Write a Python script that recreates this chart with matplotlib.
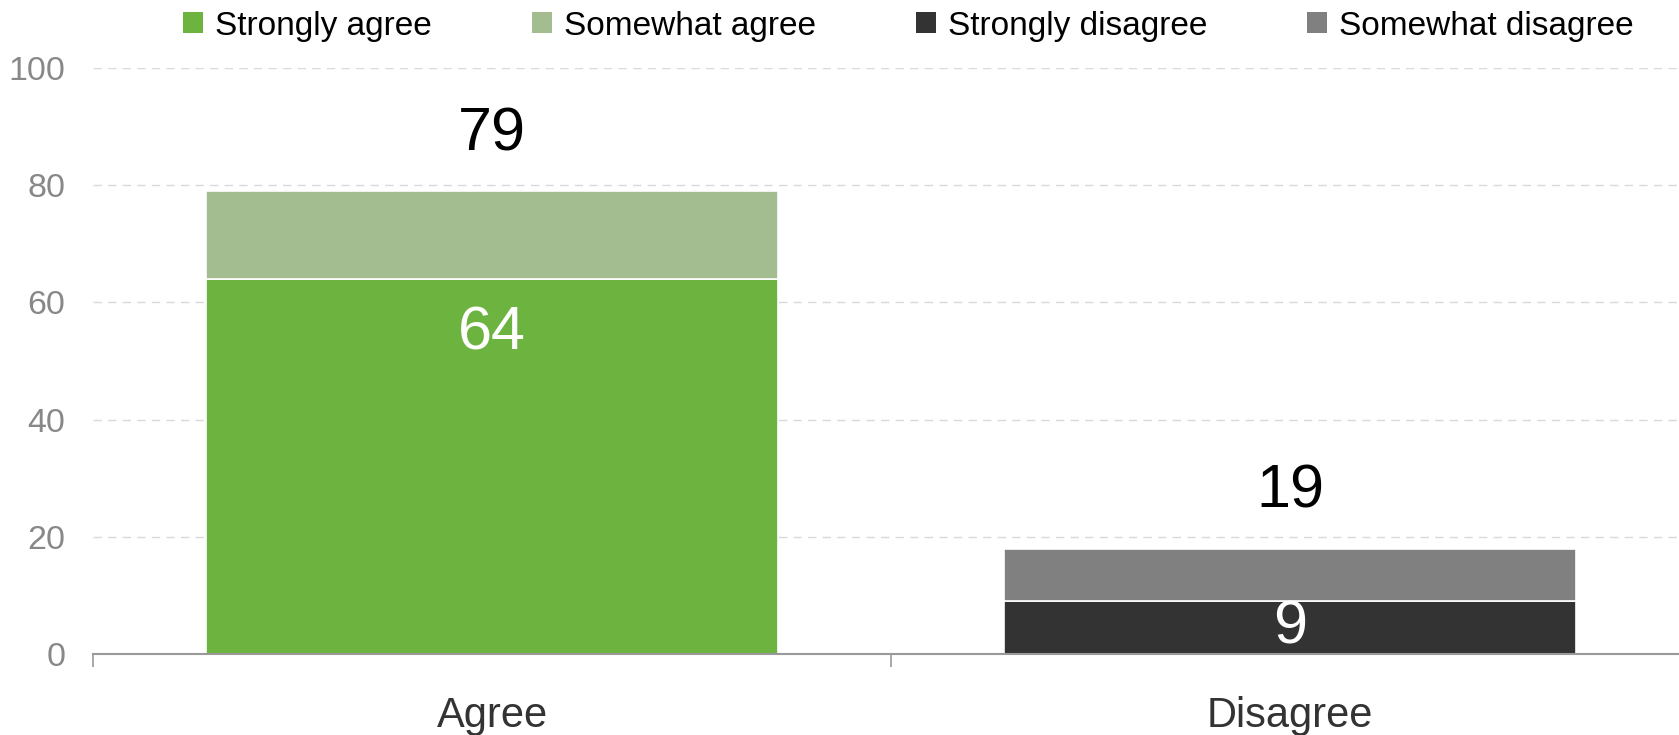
import matplotlib.pyplot as plt
from matplotlib.patches import Patch

# categories and stacked series
categories = ['Agree', 'Disagree']
series_names = ['Strongly agree', 'Somewhat agree', 'Strongly disagree', 'Somewhat disagree']
series_colors = ['#6db33f', '#a3bd91', '#333333', '#808080']
strong_vals = [64, 9]        # bottom segment of each bar
somewhat_vals = [15, 9]      # top segment of each bar
totals = [79, 19]            # total labels shown above bars
bottom_colors = [series_colors[0], series_colors[2]]
top_colors = [series_colors[1], series_colors[3]]
yticks = [0, 20, 40, 60, 80, 100]

plt.rcParams['font.family'] = ['Liberation Sans', 'DejaVu Sans']

fig = plt.figure(figsize=(16.79, 7.35), dpi=100)
# axes runs a bit past the right edge, like the original
ax = fig.add_axes([93 / 1679, 1 - 654 / 735, 1596 / 1679, 586 / 735])

x = list(range(len(categories)))
width = 0.716
ax.bar(x, strong_vals, width, color=bottom_colors, edgecolor='white', linewidth=1.2, zorder=3)
ax.bar(x, somewhat_vals, width, bottom=strong_vals, color=top_colors,
       edgecolor='white', linewidth=1.2, zorder=3)

for i in x:
    top = strong_vals[i] + somewhat_vals[i]
    ax.annotate(str(totals[i]), (i, top), xytext=(0, 40.5), textcoords='offset points',
                ha='center', va='center', fontsize=44, color='black')
    # inside label near top of the strong segment, or centred if the segment is short
    ly = max(strong_vals[i] - 9.4, strong_vals[i] / 2)
    ax.text(i, ly, str(strong_vals[i]), ha='center', va='center', fontsize=44,
            color='white', zorder=4)

ax.set_xlim(-0.5, 1.5)
ax.set_ylim(0, 100)
ax.set_yticks(yticks)
ax.tick_params(axis='y', length=0, labelsize=24.5, labelcolor='#888888', pad=20)
ax.yaxis.grid(True, color='#d9d9d9', linestyle=(0, (6, 4.5)), linewidth=1, zorder=0)

# boundary ticks as major, labels on minor ticks
ax.set_xticks([-0.5, 0.5, 1.5])
ax.set_xticklabels([])
ax.set_xticks(x, minor=True)
ax.set_xticklabels(categories, minor=True)
ax.tick_params(axis='x', which='major', length=9.5, width=1.2, color='#999999')
ax.tick_params(axis='x', which='minor', length=0, labelsize=30, labelcolor='#333333', pad=30)

for s in ['top', 'left', 'right']:
    ax.spines[s].set_visible(False)
ax.spines['bottom'].set_color('#999999')
ax.spines['bottom'].set_linewidth(1.5)
ax.spines['bottom'].set_zorder(5)

handles = [Patch(facecolor=c, edgecolor='none') for c in series_colors]
fig.legend(handles, series_names, loc='center left', bbox_to_anchor=(183 / 1679, 1 - 26 / 735),
           ncol=4, frameon=False, fontsize=24, borderpad=0, borderaxespad=0,
           handlelength=0.6, handleheight=0.6, handletextpad=0.36, columnspacing=3.0)

fig.savefig('out.png', dpi=100)
